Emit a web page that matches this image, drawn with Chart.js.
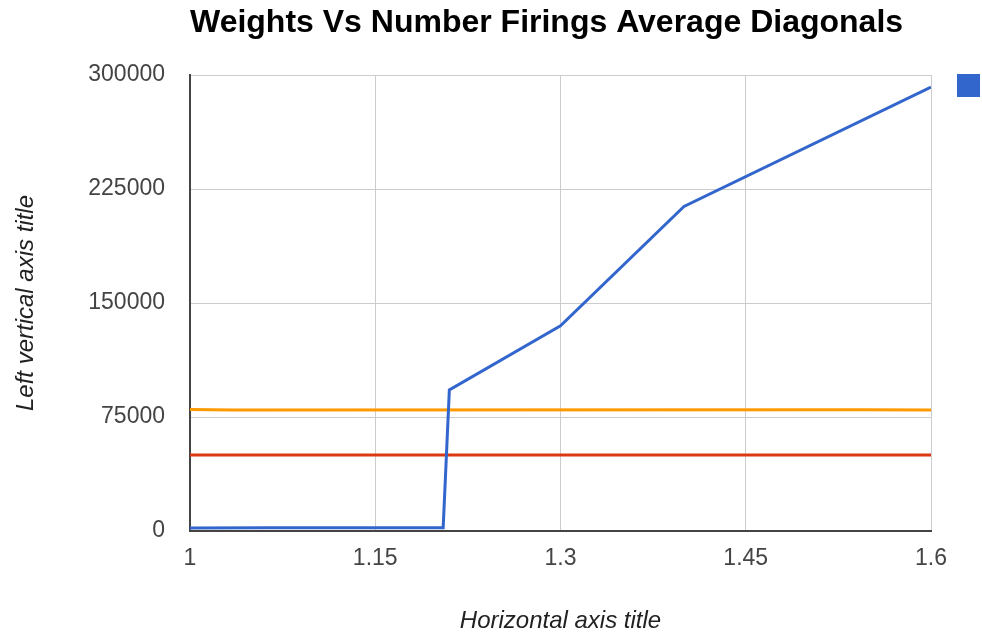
<!DOCTYPE html>
<html>
<head>
<meta charset="utf-8">
<script src="https://cdn.jsdelivr.net/npm/chart.js@4/dist/chart.umd.min.js"></script>
<style>
  html, body { margin: 0; padding: 0; background: #ffffff; }
  #wrap { width: 982px; height: 633px; }
</style>
</head>
<body>
<div id="wrap"><canvas id="chart" width="982" height="633"></canvas></div>
<script>
// Number of firings against weight (average diagonals)
const weights = [1, 1.06, 1.205, 1.21, 1.3, 1.4, 1.6];
const firings = [2000, 2100, 2200, 92800, 135000, 213500, 292000];

// Upper reference level (orange)
const upperWeights = [1, 1.035, 1.545, 1.6];
const upperLevel = [79900, 79600, 79800, 79600];

// Lower reference level (red)
const lowerWeights = [1, 1.6];
const lowerLevel = [50000, 50000];

// Axis ticks
const xTicks = [1, 1.15, 1.3, 1.45, 1.6];
const yTicks = [0, 75000, 150000, 225000, 300000];

const toPoints = (xs, ys) => xs.map((x, i) => ({ x: x, y: ys[i] }));

Chart.defaults.font.family = "'Liberation Sans', Arial, Helvetica, sans-serif";

const BLUE = '#3366cc';
const ORANGE = '#ff9900';
const RED = '#dc3912';

new Chart(document.getElementById('chart'), {
  type: 'line',
  data: {
    datasets: [
      {
        label: '',
        data: toPoints(weights, firings),
        borderColor: BLUE,
        backgroundColor: BLUE,
        borderWidth: 3,
        pointRadius: 0,
        tension: 0,
        fill: false
      },
      {
        label: '',
        data: toPoints(upperWeights, upperLevel),
        borderColor: ORANGE,
        backgroundColor: ORANGE,
        borderWidth: 3,
        pointRadius: 0,
        tension: 0,
        fill: false
      },
      {
        label: '',
        data: toPoints(lowerWeights, lowerLevel),
        borderColor: RED,
        backgroundColor: RED,
        borderWidth: 3,
        pointRadius: 0,
        tension: 0,
        fill: false
      }
    ]
  },
  options: {
    responsive: false,
    animation: false,
    devicePixelRatio: 1,
    layout: { padding: 0 },
    plugins: {
      title: {
        display: true,
        text: 'Weights Vs Number Firings Average Diagonals',
        align: 'start',
        fullSize: false,
        color: '#000000',
        font: { size: 32, weight: 'bold' },
        padding: { top: 4, bottom: 32.6 }
      },
      legend: {
        position: 'right',
        align: 'start',
        maxWidth: 51,
        title: { display: true, text: '', font: { size: 10 }, padding: { top: 36, bottom: 0 } },
        labels: {
          padding: 26,
          boxWidth: 23,
          boxHeight: 23,
          font: { size: 12 },
          generateLabels: chart => {
            const ds = chart.data.datasets[0];
            return [{
              text: ds.label,
              fillStyle: ds.borderColor,
              strokeStyle: ds.borderColor,
              lineWidth: 0,
              hidden: false,
              datasetIndex: 0
            }];
          }
        }
      },
      tooltip: { enabled: false }
    },
    scales: {
      x: {
        type: 'linear',
        min: 1,
        max: 1.6,
        afterBuildTicks: s => { s.ticks = xTicks.map(v => ({ value: v })); },
        afterFit: s => { s.height = 102; },
        grid: { color: '#cccccc', lineWidth: 1, drawTicks: false },
        border: { color: '#444444', width: 2 },
        ticks: {
          padding: 14,
          color: '#444444',
          font: { size: 23 },
          maxRotation: 0,
          autoSkip: false,
          callback: v => String(v)
        },
        title: {
          display: true,
          text: 'Horizontal axis title',
          color: '#222222',
          font: { size: 24, style: 'italic' },
          padding: { top: 0, bottom: -3 }
        }
      },
      y: {
        type: 'linear',
        min: 0,
        max: 300000,
        afterBuildTicks: s => { s.ticks = yTicks.map(v => ({ value: v })); },
        afterFit: s => { s.width = 190; },
        grid: { color: '#cccccc', lineWidth: 1, drawTicks: false },
        border: { color: '#444444', width: 2 },
        ticks: {
          padding: 25,
          color: '#444444',
          font: { size: 23 },
          autoSkip: false,
          callback: v => String(v)
        },
        title: {
          display: true,
          text: 'Left vertical axis title',
          color: '#222222',
          font: { size: 24, style: 'italic' },
          padding: { top: 12, bottom: 0 }
        }
      }
    }
  }
});
</script>
</body>
</html>
